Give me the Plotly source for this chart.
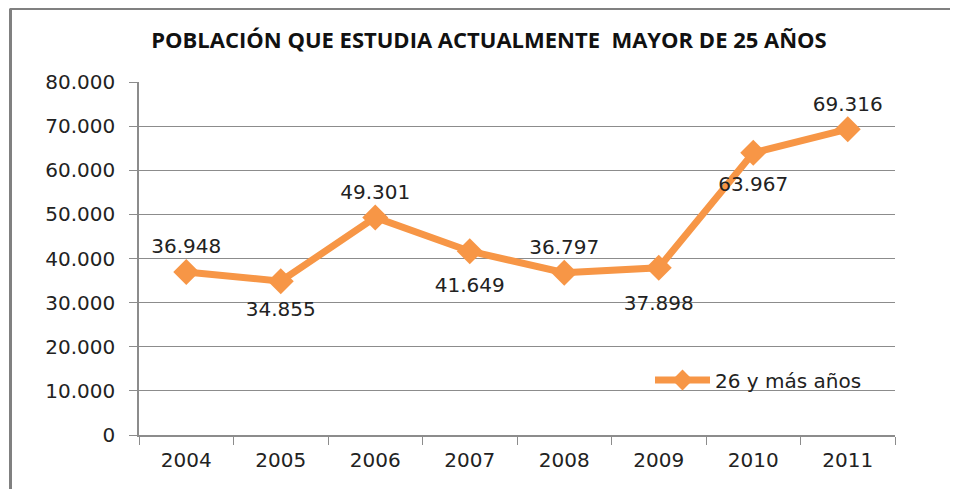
import plotly.graph_objects as go

years = ["2004", "2005", "2006", "2007", "2008", "2009", "2010", "2011"]
values = [36948, 34855, 49301, 41649, 36797, 37898, 63967, 69316]
series_name = "26 y más años"
title = "POBLACIÓN QUE ESTUDIA ACTUALMENTE  MAYOR DE 25 AÑOS"
y_ticks = [0, 10000, 20000, 30000, 40000, 50000, 60000, 70000, 80000]

# label placement (style): position and spacing from each point
label_pos = ["top center", "bottom center", "top center", "bottom center",
             "top center", "bottom center", "bottom center", "top center"]
label_gap = [20, 30, 20, 40, 20, 42, 36, 20]

ORANGE = "#F79646"
GRID = "#8c8c8c"
FONT = "DejaVu Sans"
TXT = "#222222"

# page has an 8px body margin: figure origin is at page (8, 8)
OFF = 8
W, H = 958 - OFF, 489 - OFF
L, T = 139 - OFF, 82 - OFF
R = W - (895 - OFF)
B = H - (435 - OFF)
pw, ph = W - L - R, H - T - B

def px(x):  # page x -> paper
    return (x - OFF - L) / pw

def py(y):  # page y -> paper
    return (H - B - (y - OFF)) / ph

fig = go.Figure()
fig.add_trace(go.Scatter(
    x=years, y=values, name=series_name,
    mode="lines+markers",
    line=dict(color=ORANGE, width=7),
    marker=dict(symbol="diamond", size=20, color=ORANGE, line=dict(width=0)),
    cliponaxis=False,
))
fig.add_trace(go.Scatter(
    x=years, y=values, name="labels", showlegend=False, hoverinfo="skip",
    mode="markers+text",
    marker=dict(size=label_gap, color="rgba(0,0,0,0)",
                line=dict(width=0, color="rgba(0,0,0,0)")),
    texttemplate="%{y:,d}",
    textposition=label_pos,
    textfont=dict(family=FONT, size=20, color=TXT),
    cliponaxis=False,
))

fig.update_layout(
    width=W, height=H,
    margin=dict(l=L, r=R, t=T, b=B),
    paper_bgcolor="white", plot_bgcolor="white",
    separators=",.",
    title=dict(text="<b>" + title + "</b>", x=(489 - OFF) / W, xanchor="center",
               y=1 - (40 - OFF) / H, yanchor="middle",
               font=dict(family="Open Sans", size=22, color="#111111")),
    xaxis=dict(type="category", range=[-0.5, 7.5], tickson="boundaries",
               ticks="outside", ticklen=8, tickcolor=GRID,
               showline=True, linecolor=GRID, linewidth=1.5,
               showgrid=False, ticklabelstandoff=6,
               tickfont=dict(family=FONT, size=20, color=TXT)),
    yaxis=dict(range=[0, 80000], tickvals=y_ticks, tickformat=",d",
               ticks="outside", ticklen=8, tickcolor=GRID,
               showline=True, linecolor=GRID, linewidth=1.5,
               showgrid=True, gridcolor=GRID, gridwidth=1.2,
               zeroline=False, ticklabelstandoff=10,
               tickfont=dict(family=FONT, size=20, color=TXT)),
    showlegend=True,
    legend=dict(x=px(650), y=py(380), xanchor="left", yanchor="middle",
                bgcolor="rgba(255,255,255,0)", itemwidth=55,
                font=dict(family=FONT, size=20, color=TXT)),
    shapes=[
        dict(type="line", xref="paper", yref="paper",
             x0=px(10), x1=px(970), y0=py(8.5), y1=py(8.5),
             line=dict(color="#808080", width=3)),
        dict(type="line", xref="paper", yref="paper",
             x0=px(10.5), x1=px(10.5), y0=py(8.5), y1=py(500),
             line=dict(color="#808080", width=3)),
    ],
)

fig.write_html("out.html")
